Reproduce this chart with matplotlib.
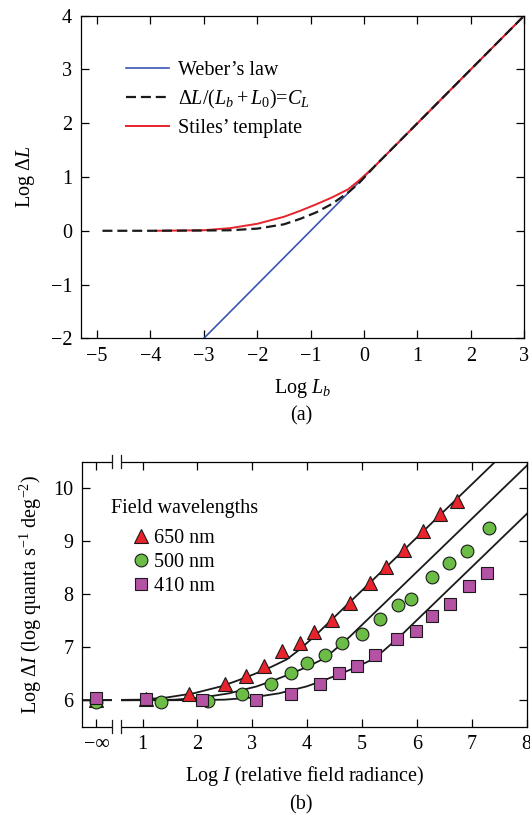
import numpy as np
import matplotlib
matplotlib.use("Agg")
import matplotlib.pyplot as plt
from matplotlib.transforms import blended_transform_factory
from matplotlib.patches import Rectangle

plt.rcParams['font.family'] = ['Liberation Serif', 'DejaVu Serif']
plt.rcParams['mathtext.fontset'] = 'custom'
plt.rcParams['mathtext.rm'] = 'Liberation Serif'
plt.rcParams['mathtext.it'] = 'Liberation Serif:italic'
plt.rcParams['axes.linewidth'] = 0.9

FS = 14.5

# ---- panel (a): threshold-vs-intensity curves ----
weber_x = [-3.0, 3.0]
weber_y = [-2.0, 4.0]

model_x = [-4.9, -4.0, -3.0, -2.5, -2.0, -1.5, -1.2, -0.9, -0.6, -0.3, -0.1, 0.2, 0.5, 1.0, 2.0, 3.0]
model_y = [0.0, 0.0, 0.005, 0.01, 0.04, 0.12, 0.22, 0.34, 0.50, 0.71, 0.88, 1.2, 1.5, 2.0, 3.0, 4.0]

# Stiles' template, also reused for the fits in panel b
stiles_x = np.array([-4.9, -3.9, -3.0, -2.5, -2.0, -1.5, -1.2, -0.9, -0.6, -0.3, -0.1,
                     0.2, 0.5, 1.0, 2.0, 3.0, 3.6])
stiles_y = np.array([0.0, 0.0, 0.01, 0.05, 0.13, 0.26, 0.37, 0.49, 0.62, 0.77, 0.93,
                     1.2, 1.5, 2.0, 3.0, 4.0, 4.6])

# ---- panel (b): increment thresholds for three field wavelengths ----
wavelengths = ['650 nm', '500 nm', '410 nm']
field_shift = [3.93, 4.58, 5.49]   # template shift along log I
base_level = 6.0

x650 = [-np.inf, 1.07, 1.84, 2.50, 2.88, 3.21, 3.54, 3.88, 4.12, 4.45, 4.78, 5.14, 5.43, 5.76, 6.11, 6.42, 6.73]
y650 = [6.0, 6.03, 6.12, 6.31, 6.45, 6.65, 6.93, 7.08, 7.28, 7.51, 7.84, 8.22, 8.52, 8.83, 9.19, 9.52, 9.76]

x500 = [-np.inf, 1.33, 2.19, 2.82, 3.34, 3.70, 3.99, 4.33, 4.63, 5.00, 5.33, 5.66, 5.90, 6.28, 6.59, 6.92, 7.32]
y500 = [5.96, 5.97, 5.99, 6.12, 6.31, 6.51, 6.70, 6.86, 7.08, 7.25, 7.53, 7.80, 7.91, 8.33, 8.59, 8.82, 9.25]

x410 = [-np.inf, 1.07, 2.08, 3.07, 3.70, 4.24, 4.58, 4.91, 5.23, 5.64, 5.99, 6.27, 6.61, 6.96, 7.28]
y410 = [6.04, 6.03, 6.00, 6.00, 6.11, 6.31, 6.51, 6.65, 6.85, 7.16, 7.31, 7.58, 7.82, 8.16, 8.40]

b_xticks = ['\u2212\u221e', '1', '2', '3', '4', '5', '6', '7', '8']

NEG_INF_X = 0.16
BREAK = (0.45, 0.60)

fig = plt.figure(figsize=(5.3, 8.17), dpi=100)

# ================= (a) =================
ax1 = fig.add_axes([0.152, 0.5859, 0.837, 0.3949])
ax1.plot(weber_x, weber_y, color='#3a56b0', lw=1.2, label="Weber\u2019s law", zorder=2)
ax1.plot(model_x, model_y, color='#1a1a1a', lw=1.6, dashes=(4.5, 2.2), zorder=3,
         label=r'$\Delta L/(L_b + L_0)$=$C_L$')
keep = (stiles_x >= -3.9) & (stiles_x <= 3.0)
ax1.plot(stiles_x[keep], stiles_y[keep], color='#e8232b', lw=1.4, zorder=2.5,
         label="Stiles\u2019 template")
ax1.set_xlim(-5.31, 3.0)
ax1.set_ylim(-2, 4)
ax1.set_xticks(range(-5, 4))
ax1.set_yticks(range(-2, 5))
ax1.tick_params(direction='in', top=True, right=True, length=5.5, width=0.9,
                labelsize=FS, pad=6)
ax1.set_xlabel(r'Log $L_b$', fontsize=FS)
ax1.set_ylabel(r'Log $\Delta L$', fontsize=FS)
ax1.xaxis.set_label_coords(0.5, -0.12)
ax1.yaxis.set_label_coords(-0.099, 0.5)
ax1.legend(loc='upper left', bbox_to_anchor=(0.102, 0.861), frameon=False,
           fontsize=FS, handlelength=2.14, handletextpad=0.45, labelspacing=0.4,
           borderpad=0, borderaxespad=0)
fig.text(0.568, 0.4915, '(a)', ha='center', va='center', fontsize=FS)

# ================= (b) =================
ax2 = fig.add_axes([0.154, 0.1105, 0.8394, 0.3244])
for s in field_shift:
    ax2.plot(stiles_x + s, base_level + stiles_y, color='#1a1a1a', lw=1.3, zorder=2)


def pos(xs):
    xs = np.asarray(xs, dtype=float)
    return np.where(np.isinf(xs), NEG_INF_X, xs)


ax2.plot(pos(x650), y650, ls='none', marker='^', ms=10.5, mfc='#e8232b', mec='#1a1a1a',
         mew=0.8, zorder=3, label=wavelengths[0])
ax2.plot(pos(x500), y500, ls='none', marker='o', ms=9.2, mfc='#6cbd45', mec='#1a1a1a',
         mew=0.8, zorder=4, label=wavelengths[1])
ax2.plot(pos(x410), y410, ls='none', marker='s', ms=8, mfc='#b452a4', mec='#1a1a1a',
         mew=0.8, zorder=5, label=wavelengths[2])

ax2.set_xlim(-0.11, 8.0)
ax2.set_ylim(5.5, 10.5)
ax2.set_xticks([NEG_INF_X] + list(range(1, 9)))
ax2.set_xticklabels(b_xticks)
ax2.set_yticks(range(6, 11))
ax2.tick_params(direction='in', top=True, right=True, length=5.5, width=0.9,
                labelsize=FS, pad=6)
ax2.set_xlabel(r'Log $I$ (relative field radiance)', fontsize=FS)
ax2.set_ylabel(r'Log $\Delta I$ (log quanta s$^{-1}$ deg$^{-2}$)', fontsize=FS)
ax2.xaxis.set_label_coords(0.5, -0.14)
ax2.yaxis.set_label_coords(-0.085, 0.5)

# axis break
tr = blended_transform_factory(ax2.transData, ax2.transAxes)
ax2.add_patch(Rectangle((BREAK[0], -0.02), BREAK[1] - BREAK[0], 1.04, transform=tr,
                        facecolor='white', edgecolor='none', zorder=2.6, clip_on=False))
for bx in BREAK:
    for by in (0.0, 1.0):
        ax2.plot([bx, bx], [by - 0.025, by + 0.025], transform=tr, color='#1a1a1a',
                 lw=0.9, zorder=2.7, clip_on=False)

ax2.text(0.067, 0.825, 'Field wavelengths', transform=ax2.transAxes, fontsize=FS,
         va='center', ha='left')
ax2.legend(loc='upper left', bbox_to_anchor=(0.1164, 0.745), frameon=False,
           fontsize=FS, handlelength=0.8, handletextpad=0.22, labelspacing=0.24,
           borderpad=0, borderaxespad=0)
fig.text(0.568, 0.0147, '(b)', ha='center', va='center', fontsize=FS)

fig.savefig('out.png', dpi=100)
